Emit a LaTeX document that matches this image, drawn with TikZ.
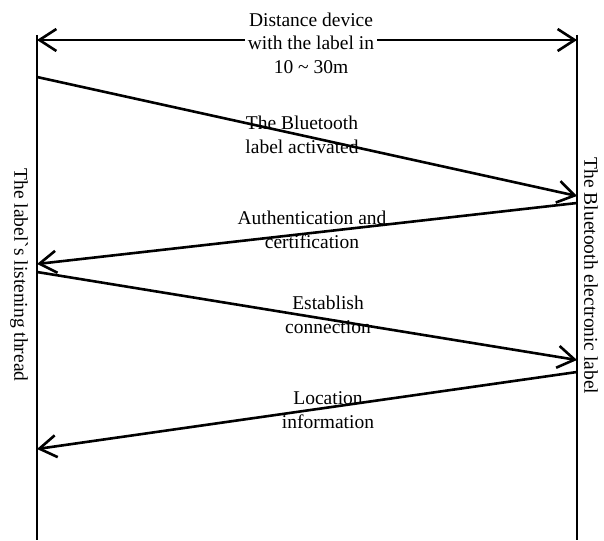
\documentclass[tikz,border=0pt]{standalone}
\usepackage{fontspec}
\setmainfont{Liberation Serif}
\usetikzlibrary{arrows.meta}
\begin{document}
\begin{tikzpicture}[x=1pt,y=-1pt,
  lifeline/.style={line width=1.6pt},
  barb/.tip={Straight Barb[length=17pt,width=22pt]},
  msg/.style={line width=2.6pt,-barb},
  lbl/.style={font=\fontsize{19.5}{23.5}\selectfont,align=center,inner sep=0pt},
  side/.style={font=\fontsize{19.5}{23.5}\selectfont,rotate=-90,inner sep=0pt}]
\useasboundingbox (0,0) rectangle (604,540);

% lifelines
\coordinate (Ltop) at (37,35);
\coordinate (Lbot) at (37,540);
\coordinate (Rtop) at (577,35);
\coordinate (Rbot) at (577,540);
\draw[lifeline] (Ltop) -- (Lbot);
\draw[lifeline] (Rtop) -- (Rbot);

% lifeline captions
\node[side] (lname) at (19,275) {The label\textasciigrave s listening thread};
\node[side] (rname) at (591,276) {The Bluetooth electronic label};

% distance between the two sides
\coordinate (dL) at (37,40);
\coordinate (dR) at (577,40);
\draw[line width=2.6pt,barb-barb] (dL) -- (dR);
\node[lbl,fill=white,inner xsep=3pt] (dist) at (311,43)
  {Distance device\\with the label in\\10 \symbol{"7E} 30m};

% message end points
\coordinate (m1s) at (37,77);   \coordinate (m1e) at (577,196);
\coordinate (m2s) at (577,203); \coordinate (m2e) at (37,264);
\coordinate (m3s) at (37,272);  \coordinate (m3e) at (577,360);
\coordinate (m4s) at (577,372); \coordinate (m4e) at (37,449);

\draw[msg] (m1s) -- (m1e);
\draw[msg] (m2s) -- (m2e);
\draw[msg] (m3s) -- (m3e);
\draw[msg] (m4s) -- (m4e);

% message captions
\node[lbl] (t1) at (302,135) {The Bluetooth\\label activated};
\node[lbl] (t2) at (312,230) {Authentication and\\certification};
\node[lbl] (t3) at (328,315) {Establish\\connection};
\node[lbl] (t4) at (328,410) {Location\\information};
\end{tikzpicture}
\end{document}
